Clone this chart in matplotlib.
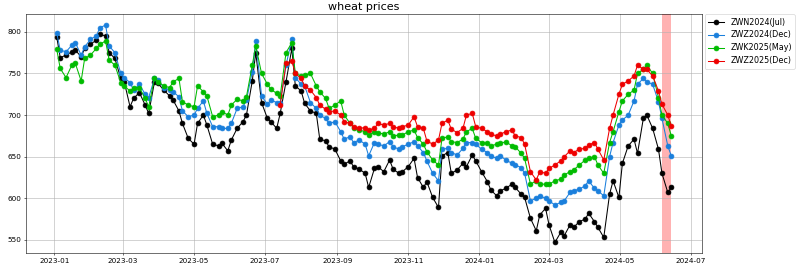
#!/usr/bin/env python3
"""
Plot wheat futures prices (four contracts) with a highlighted window.
"""

from pathlib import Path

import matplotlib

matplotlib.use("Agg")
import matplotlib.pyplot as plt
import pandas as pd

DATE_START = "2023-01-03"
DATE_END = "2024-06-14"
RED_START_IDX = 46  # ZWZ2025 starts trading mid July 2023

zwn2024_jul = [
    794, 769, 772, 776, 778, 770, 780, 785, 790, 797,
    795, 775, 768, 744, 740, 710, 720, 727, 712, 702,
    740, 738, 730, 723, 718, 705, 690, 672, 665, 690,
    700, 688, 665, 663, 666, 657, 670, 684, 692, 700,
    741, 775, 715, 696, 692, 684, 702, 740, 780, 735,
    729, 714, 705, 702, 671, 669, 662, 659, 645, 641,
    645, 638, 635, 630, 613, 636, 638, 632, 646, 635,
    630, 632, 638, 648, 625, 613, 620, 601, 589, 651,
    655, 630, 634, 642, 638, 652, 645, 632, 620, 610,
    603, 609, 612, 617, 613, 605, 601, 576, 561, 580,
    588, 568, 547, 559, 555, 568, 565, 572, 575, 582,
    572, 565, 553, 605, 621, 601, 642, 663, 671, 654,
    696, 700, 684, 659, 630, 607, 613,
]

zwz2024_dec = [
    799, 778, 776, 784, 787, 772, 782, 791, 795, 805,
    808, 783, 775, 750, 745, 739, 730, 737, 725, 721,
    744, 742, 733, 730, 728, 722, 705, 698, 700, 708,
    717, 702, 686, 686, 684, 684, 690, 708, 710, 718,
    752, 789, 723, 713, 718, 715, 715, 760, 791, 745,
    737, 735, 715, 708, 700, 696, 690, 692, 680, 671,
    674, 667, 670, 665, 651, 667, 665, 663, 668, 662,
    659, 662, 665, 668, 663, 655, 645, 630, 621, 659,
    660, 655, 652, 660, 667, 667, 665, 659, 655, 651,
    648, 651, 646, 642, 640, 637, 630, 597, 600, 603,
    600, 597, 592, 595, 597, 607, 609, 611, 615, 621,
    612, 609, 603, 650, 667, 688, 694, 700, 717, 737,
    744, 740, 737, 716, 696, 663, 651,
]

zwk2025_may = [
    779, 756, 745, 760, 762, 741, 768, 772, 780, 785,
    789, 766, 760, 739, 735, 729, 733, 733, 720, 710,
    744, 740, 735, 733, 740, 744, 716, 712, 710, 735,
    728, 723, 698, 700, 704, 700, 712, 719, 717, 722,
    760, 783, 750, 737, 731, 726, 723, 775, 787, 750,
    747, 748, 750, 735, 728, 720, 708, 712, 717, 700,
    690, 685, 682, 680, 676, 680, 679, 677, 680, 675,
    676, 676, 680, 682, 673, 665, 656, 646, 640, 672,
    674, 668, 667, 671, 680, 684, 672, 667, 666, 663,
    665, 666, 668, 663, 662, 654, 648, 617, 621, 617,
    617, 617, 621, 623, 628, 632, 634, 640, 646, 648,
    650, 640, 630, 667, 680, 704, 717, 725, 730, 750,
    755, 760, 750, 721, 700, 690, 675,
]

zwz2025_dec = [
    712, 762, 765, 750,
    744, 735, 730, 721, 712, 707, 704, 705, 700, 692,
    690, 686, 684, 685, 682, 684, 690, 688, 690, 686,
    684, 686, 688, 698, 686, 684, 669, 665, 670, 690,
    694, 683, 679, 684, 700, 702, 686, 684, 680, 677,
    675, 677, 680, 682, 675, 673, 665, 632, 622, 632,
    630, 636, 640, 645, 650, 657, 655, 659, 660, 664,
    667, 659, 646, 684, 700, 725, 737, 741, 747, 760,
    755, 755, 747, 729, 713, 700, 687,
]

labels = ["ZWN2024(Jul)", "ZWZ2024(Dec)", "ZWK2025(May)", "ZWZ2025(Dec)"]
colors = ["black", "#1a7fdc", "#00bb00", "#ee0000"]
highlight = ("2024-06-06", "2024-06-14")


def main() -> None:
    dates = pd.date_range(DATE_START, DATE_END, freq="3B")
    series = [
        (dates, zwn2024_jul),
        (dates, zwz2024_dec),
        (dates, zwk2025_may),
        (dates[RED_START_IDX:], zwz2025_dec),
    ]

    fig, ax = plt.subplots(figsize=(16, 5.38), dpi=50)
    for (x, y), label, color in zip(series, labels, colors):
        ax.plot(x, y, marker="o", markersize=7, linewidth=1.5, color=color, label=label)

    ax.axvspan(pd.Timestamp(highlight[0]), pd.Timestamp(highlight[1]), color="red", alpha=0.3, lw=0)
    ax.set_title("wheat prices", fontsize=16)
    ax.tick_params(labelsize=10.5)
    ax.grid(True)
    ax.legend(loc="upper left", bbox_to_anchor=(1.004, 1.0), borderaxespad=0, fontsize=11.5)

    fig.subplots_adjust(left=0.0325, right=0.8775, top=0.9468, bottom=0.0584)
    fig.savefig(Path("out.png"), dpi=50)
    plt.close(fig)


if __name__ == "__main__":
    main()
